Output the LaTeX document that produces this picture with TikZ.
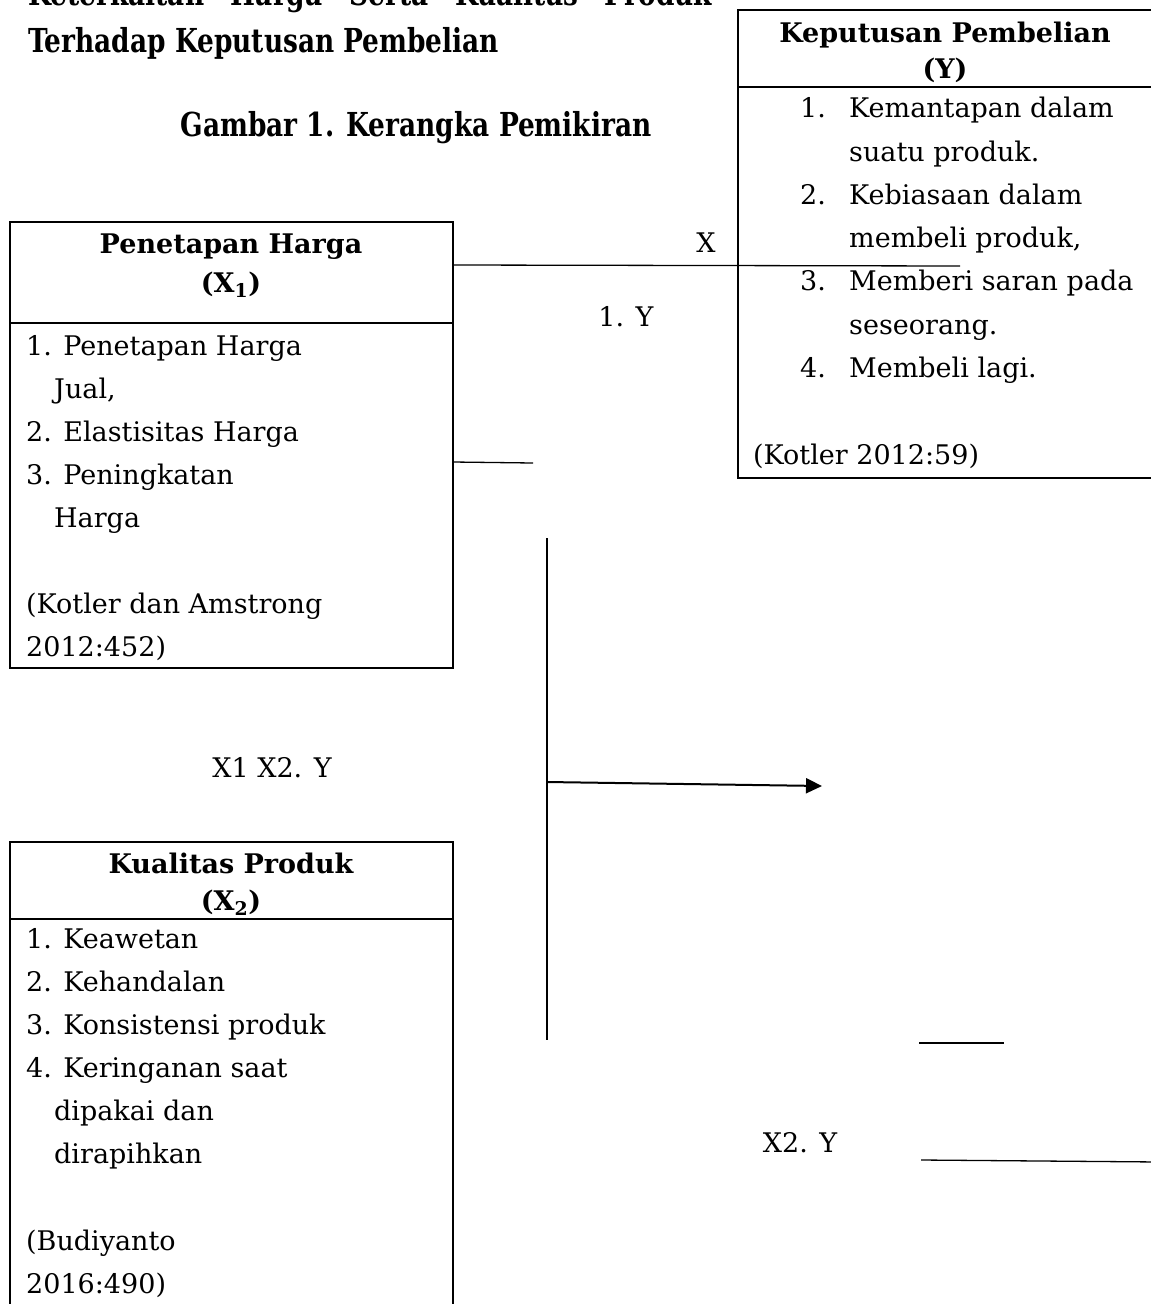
\documentclass[tikz,border=0pt]{standalone}
\usepackage{fontspec}
\setmainfont{DejaVu Serif}
\newfontfamily\titlefont[FakeStretch=0.8]{DejaVu Serif}
\usetikzlibrary{arrows.meta}
\begin{document}
\begin{tikzpicture}[x=1pt,y=-1pt,
  font=\fontsize{27}{43}\selectfont,
  box/.style={draw, line width=2pt, inner sep=0pt, outer sep=0pt, anchor=north west},
  sepline/.style={line width=2pt},
  txt/.style={inner sep=0pt, anchor=base west},
  ctxt/.style={inner sep=0pt, anchor=base},
  hdr/.style={inner sep=0pt, anchor=base, font=\fontsize{27}{43}\selectfont\bfseries},
  ttl/.style={inner sep=0pt, font=\titlefont\bfseries\fontsize{33}{40}\selectfont},
  conn/.style={line width=1.3pt},
]
\path[use as bounding box] (0,0) rectangle (1151,1304);
\clip (0,0) rectangle (1151,1304);

% titles
\node[ttl, anchor=base west] (t1) at (28,5) {\hbox to 684pt{Keterkaitan\hfill Harga\hfill Serta\hfill Kualitas\hfill Produk}};
\node[ttl, anchor=base west] (t2) at (28,52) {Terhadap Keputusan Pembelian};
\node[ttl, anchor=base] (fig) at (416,136) {Gambar 1. Kerangka Pemikiran};

% box Y
\node[box, minimum width=460pt, minimum height=468pt] (boxY) at (738,10) {};
\draw[sepline] (738,87) -- (1200,87);
\node[hdr] (yh1) at (945,42) {Keputusan Pembelian};
\node[hdr] (yh2) at (945,78) {(Y)};
\node[txt] (y1n) at (800,117) {1.};
\node[txt] (y1a) at (849,117) {Kemantapan dalam};
\node[txt] (y1b) at (849,161) {suatu produk.};
\node[txt] (y2n) at (800,204) {2.};
\node[txt] (y2a) at (849,204) {Kebiasaan dalam};
\node[txt] (y2b) at (849,247) {membeli produk,};
\node[txt] (y3n) at (800,290) {3.};
\node[txt] (y3a) at (849,290) {Memberi saran pada};
\node[txt] (y3b) at (849,334) {seseorang.};
\node[txt] (y4n) at (800,377) {4.};
\node[txt] (y4a) at (849,377) {Membeli lagi.};
\node[txt] (ysrc) at (753,464) {(Kotler 2012:59)};

% box X1
\node[box, minimum width=443pt, minimum height=446pt] (boxA) at (10,222) {};
\draw[sepline] (10,323) -- (453,323);
\node[hdr] (ah1) at (231,253) {Penetapan Harga};
\node[hdr] (ah2) at (231,292) {(X\textsubscript{1})};
\node[txt] (a1) at (26,355) {1. Penetapan Harga};
\node[txt] (a1b) at (54,398) {Jual,};
\node[txt] (a2) at (26,441) {2. Elastisitas Harga};
\node[txt] (a3) at (26,484) {3. Peningkatan};
\node[txt] (a3b) at (54,527) {Harga};
\node[txt] (asrc1) at (26,613) {(Kotler dan Amstrong};
\node[txt] (asrc2) at (26,656) {2012:452)};

% box X2
\node[box, minimum width=443pt, minimum height=600pt] (boxB) at (10,842) {};
\draw[sepline] (10,919) -- (453,919);
\node[hdr] (bh1) at (231,873) {Kualitas Produk};
\node[hdr] (bh2) at (231,910) {(X\textsubscript{2})};
\node[txt] (b1) at (26,948) {1. Keawetan};
\node[txt] (b2) at (26,991) {2. Kehandalan};
\node[txt] (b3) at (26,1034) {3. Konsistensi produk};
\node[txt] (b4) at (26,1077) {4. Keringanan saat};
\node[txt] (b4b) at (54,1120) {dipakai dan};
\node[txt] (b4c) at (54,1163) {dirapihkan};
\node[txt] (bsrc1) at (26,1250) {(Budiyanto};
\node[txt] (bsrc2) at (26,1293) {2016:490)};

% connectors
\coordinate (c1s) at (453,265);
\coordinate (c1e) at (960,266);
\draw[conn] (c1s) -- (c1e);
\node[ctxt] (lx) at (706,252) {X};
\node[ctxt] (l1y) at (626,326) {1. Y};

\coordinate (c2s) at (453,462);
\coordinate (c2e) at (533,463);
\draw[conn] (c2s) -- (c2e);

\coordinate (vt) at (547,538);
\coordinate (vb) at (547,1040);
\draw[line width=1.5pt] (vt) -- (vb);

\coordinate (as) at (547,782);
\coordinate (ae) at (822,786);
\draw[line width=2pt, -{Triangle[length=16pt,width=15pt]}] (as) -- (ae);
\node[ctxt] (lxx) at (272,777) {X1 X2. Y};

\coordinate (d1s) at (919,1043);
\coordinate (d1e) at (1004,1043);
\draw[conn] (d1s) -- (d1e);
\coordinate (d2s) at (921,1160);
\coordinate (d2e) at (1160,1162);
\draw[conn] (d2s) -- (d2e);
\node[ctxt] (lx2) at (800,1152) {X2. Y};
\end{tikzpicture}
\end{document}
